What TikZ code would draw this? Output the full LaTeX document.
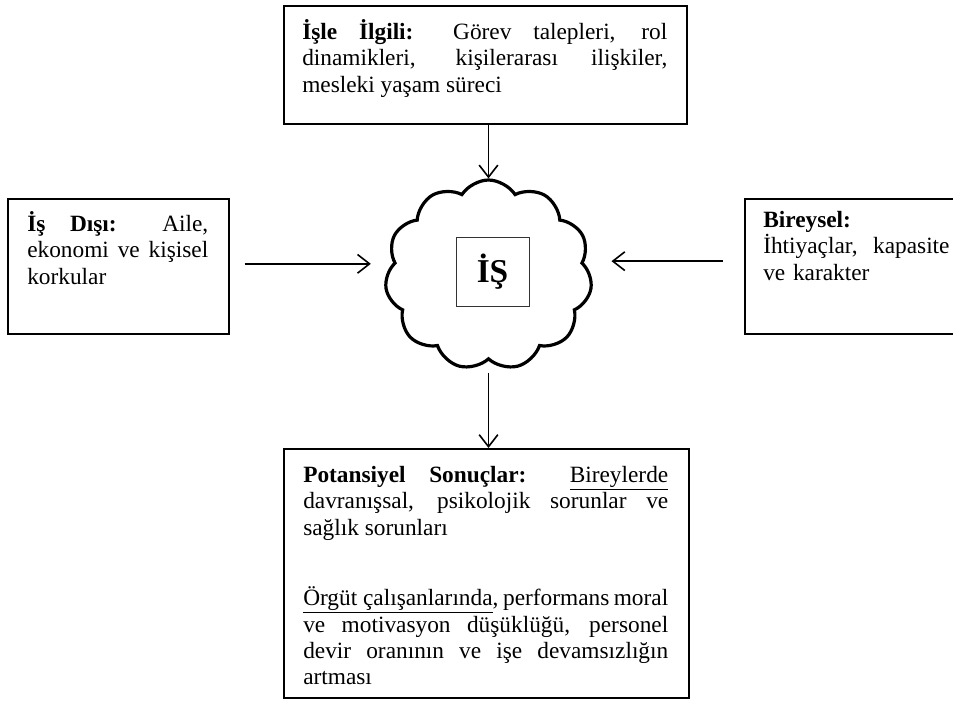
\documentclass[tikz,border=0pt]{standalone}
\usepackage{fontspec}
\setmainfont{Liberation Serif}
\usetikzlibrary{shapes.symbols,arrows.meta}
\begin{document}
\begin{tikzpicture}[x=0.75pt,y=-0.75pt,
  boxshape/.style={draw, line width=1.5pt, inner sep=0pt, anchor=north west},
  txt/.style={inner sep=0pt, anchor=north west, align=justify,
    font=\fontsize{17.5}{19.8}\selectfont},
  arr/.style={line width=1.2pt, -{Straight Barb[length=9pt,width=14pt]}}]
\tikzset{every node/.append style={execute at begin node={\hyphenpenalty=10000\tolerance=10000\emergencystretch=20pt}}}
\clip[use as bounding box] (0,0) rectangle (953,700);
\fill[white] (0,0) rectangle (953,700);
% boxes
\node[boxshape, minimum width=302.25pt, minimum height=88.5pt] (topbox) at (283,5) {};
\node[boxshape, minimum width=165.75pt, minimum height=101.25pt] (leftbox) at (7,198) {};
\node[boxshape, minimum width=165.75pt, minimum height=101.25pt] (rightbox) at (744,198) {};
\node[boxshape, minimum width=303.75pt, minimum height=186.75pt] (botbox) at (283,448) {};
% texts
\node[txt, text width=273.75pt] (toptext) at (302,19)
 {\textbf{İşle İlgili:} Görev talepleri, rol\linebreak dinamikleri, kişilerarası ilişkiler,\linebreak mesleki yaşam süreci};
\node[txt, text width=135.75pt] (lefttext) at (27,211)
 {\textbf{İş Dışı:} Aile,\linebreak ekonomi ve kişisel\linebreak korkular};
\node[txt, text width=150pt, align=left] (righttext) at (763,211)
 {\textbf{Bireysel:}\\ İhtiyaçlar,\ \ kapasite\\ ve karakter};
\node[txt, text width=273.75pt] (bottext) at (303,466)
 {\textbf{Potansiyel Sonuçlar:} \underline{Bireylerde}\linebreak davranışsal, psikolojik sorunlar ve\linebreak sağlık sorunları\par\vspace{33pt}
 \underline{Örgüt çalışanlarında}, performans moral\linebreak ve motivasyon düşüklüğü, personel\linebreak devir oranının ve işe devamsızlığın\linebreak artması};
% cloud
\node[cloud, draw, line width=2.4pt, cloud puffs=11, cloud puff arc=115, cloud ignores aspect,
  minimum width=155.25pt, minimum height=142.5pt, inner sep=0pt] (cloud) at (488.5,275) {};
\node[draw=black!80, line width=0.75pt, minimum width=54.75pt, minimum height=51.75pt, inner sep=0pt,
  font=\fontsize{25}{28}\selectfont\bfseries] (is) at (492.5,271.5) {İŞ};
% arrows
\draw[arr] (cloud.north |- topbox.south) -- (cloud.north);
\draw[arr, shorten <=11pt, shorten >=11pt] ([yshift=2pt]leftbox.east) -- ([yshift=2pt]leftbox.east -| cloud.west);
\draw[arr, shorten <=16pt, shorten >=15pt] ([yshift=4pt]rightbox.west) -- ([yshift=4pt]rightbox.west -| cloud.east);
\draw[arr, shorten <=9pt] (cloud.south) -- (cloud.south |- botbox.north);
\end{tikzpicture}
\end{document}
